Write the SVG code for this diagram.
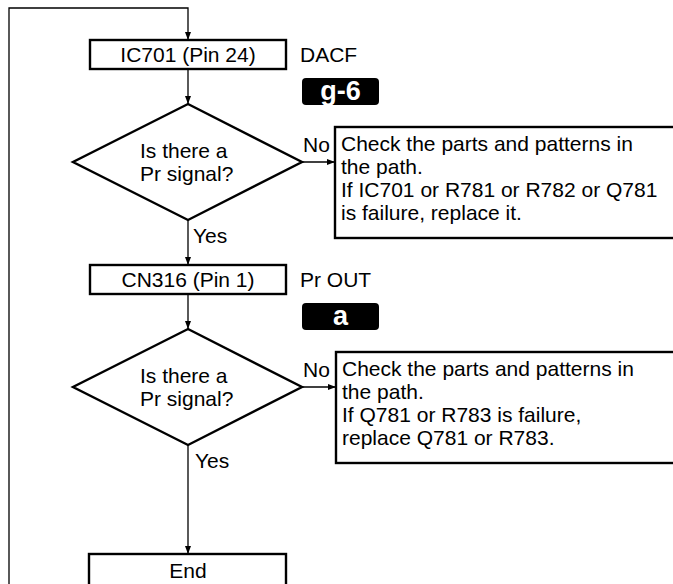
<svg xmlns="http://www.w3.org/2000/svg" width="673" height="584" viewBox="0 0 673 584">
<defs>
<marker id="ah" markerWidth="8" markerHeight="8" refX="8" refY="4" orient="auto" markerUnits="userSpaceOnUse">
<path d="M0,1 L8,4 L0,7 Z" fill="#000"/>
</marker>
<style>
text{font-family:"Liberation Sans",Arial,sans-serif;font-size:21px;fill:#000}
.box{fill:#fff;stroke:#000;stroke-width:2.4}
.dia{fill:#fff;stroke:#000;stroke-width:2.4}
.con{fill:none;stroke:#000;stroke-width:1.3}
.tag{fill:#000}
.tagt{font-weight:bold;font-size:27px;fill:#fff;text-anchor:middle}
.c{text-anchor:middle}
</style>
</defs>
<rect width="673" height="584" fill="#fff"/>
<g id="connectors">
<path class="con" d="M9,584 V8 H188 V40" marker-end="url(#ah)"/>
<path class="con" d="M188,69 V104" marker-end="url(#ah)"/>
<path class="con" d="M302,162 H335" marker-end="url(#ah)"/>
<path class="con" d="M188,220 V265" marker-end="url(#ah)"/>
<path class="con" d="M188,294 V329" marker-end="url(#ah)"/>
<path class="con" d="M302,387 H336" marker-end="url(#ah)"/>
<path class="con" d="M188,445 V554" marker-end="url(#ah)"/>
<text x="303" y="152">No</text>
<text x="193" y="243">Yes</text>
<text x="303" y="377">No</text>
<text x="195" y="468">Yes</text>
</g>
<g id="n1">
<rect class="box" x="90" y="40" width="196" height="29"/>
<text class="c" x="188" y="62">IC701 (Pin 24)</text>
<text x="300" y="62">DACF</text>
<rect class="tag" x="302" y="78" width="77" height="27" rx="4"/>
<text class="tagt" x="340.5" y="100">g-6</text>
</g>
<g id="d1">
<polygon class="dia" points="188,104 302,162 188,220 73,162"/>
<text x="140" y="158">Is there a</text>
<text x="140" y="181">Pr signal?</text>
</g>
<g id="c1">
<rect class="box" x="335" y="127" width="350" height="111"/>
<text x="341" y="151">Check the parts and patterns in</text>
<text x="341" y="174">the path.</text>
<text x="341" y="197">If IC701 or R781 or R782 or Q781</text>
<text x="341" y="220">is failure, replace it.</text>
</g>
<g id="n2">
<rect class="box" x="90" y="265" width="196" height="29"/>
<text class="c" x="188" y="287">CN316 (Pin 1)</text>
<text x="300" y="287">Pr OUT</text>
<rect class="tag" x="302" y="303" width="77" height="27" rx="4"/>
<text class="tagt" x="340.5" y="325">a</text>
</g>
<g id="d2">
<polygon class="dia" points="188,329 302,387 188,445 73,387"/>
<text x="140" y="383">Is there a</text>
<text x="140" y="406">Pr signal?</text>
</g>
<g id="c2">
<rect class="box" x="336" y="352" width="350" height="111"/>
<text x="342" y="376">Check the parts and patterns in</text>
<text x="342" y="399">the path.</text>
<text x="342" y="422">If Q781 or R783 is failure,</text>
<text x="342" y="445">replace Q781 or R783.</text>
</g>
<g id="end">
<rect class="box" x="89" y="554" width="197" height="40"/>
<text class="c" x="188" y="578">End</text>
</g>
</svg>
